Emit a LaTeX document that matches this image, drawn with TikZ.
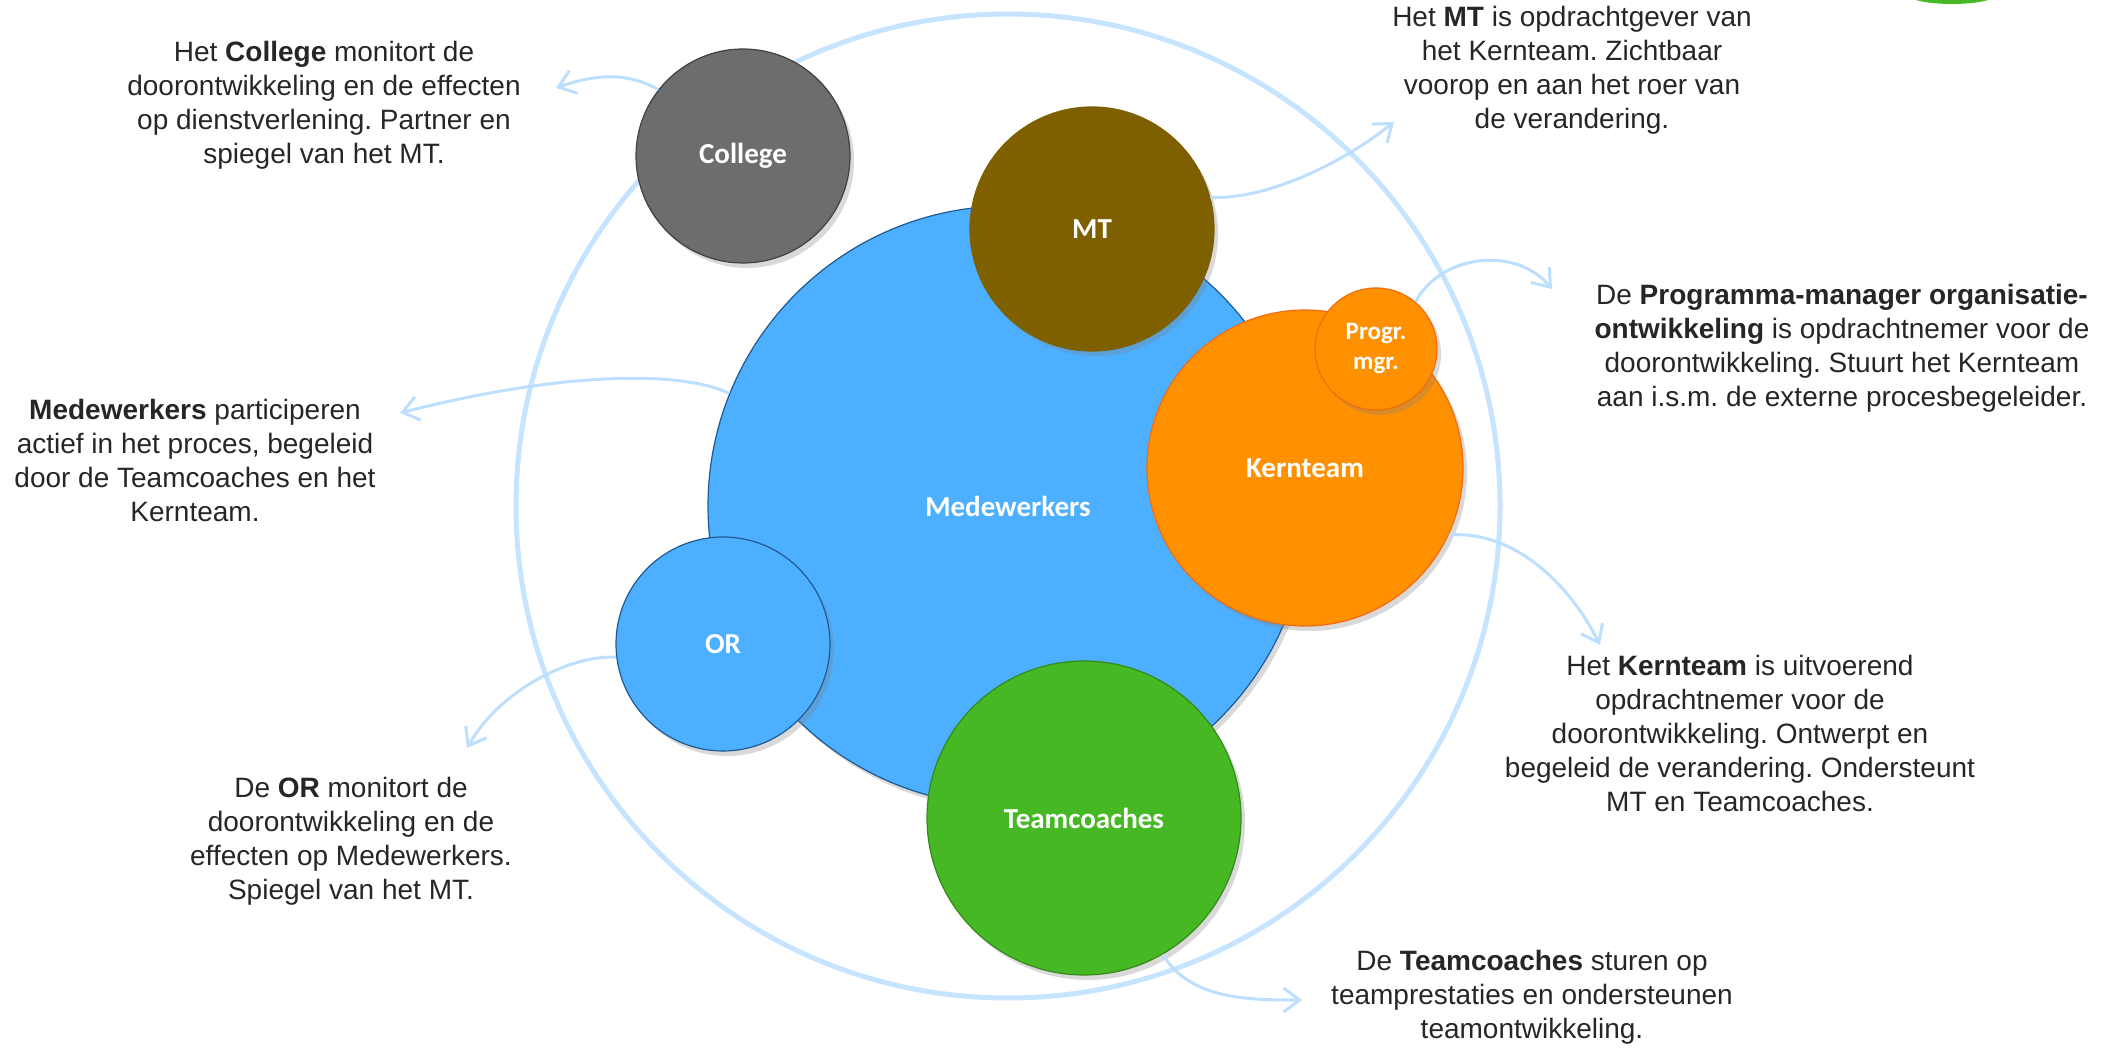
\documentclass[tikz,border=0pt]{standalone}
\usepackage{fontspec}
\setmainfont{Liberation Sans}
\newfontfamily\lblfont{Carlito}
\usetikzlibrary{shadows,arrows.meta}
\frenchspacing
\definecolor{txt}{HTML}{262626}
\definecolor{ring}{HTML}{C6E4FF}
\definecolor{arr}{HTML}{BDDFFF}
\definecolor{grayc}{HTML}{6D6D6D}
\definecolor{grayline}{HTML}{404040}
\definecolor{mtc}{HTML}{7F6000}
\definecolor{bluec}{HTML}{4DAFFF}
\definecolor{blueline}{HTML}{1F5A96}
\definecolor{orangec}{HTML}{FF9100}
\definecolor{orangeline}{HTML}{F26B0F}
\definecolor{greenc}{HTML}{45B823}
\definecolor{greenline}{HTML}{358A1C}
\begin{document}
\begin{tikzpicture}[x=0.5pt,y=-0.5pt,
  bubble/.style={circle, inner sep=0pt, text=white, font=\lblfont\bfseries\fontsize{14.5}{17}\selectfont, align=center, line width=0.6pt, drop shadow={shadow xshift=2pt, shadow yshift=-2.5pt, opacity=0.3}},
  desc/.style={text=txt, font=\fontsize{14}{17}\selectfont, align=center, inner sep=0pt},
  conn/.style={draw=arr, line width=1.5pt, -{Straight Barb[length=8pt,width=12pt,line width=1.5pt]}}
]
\useasboundingbox (0,0) rectangle (2109,1052);
% partial green shape at the top right
\fill[greenc] (1952,-6) ellipse [x radius=45, y radius=10];
% outer ring
\node[circle, draw=ring, line width=2.5pt, inner sep=0pt, minimum size=492pt] (ring) at (1008,506) {};
% circles
\node[bubble, fill=bluec, draw=blueline, minimum size=300pt] (medew) at (1008,506) {Medewerkers};
\node[bubble, fill=mtc, draw=mtc, minimum size=122pt] (mt) at (1092,229) {MT};
\node[bubble, fill=grayc, draw=grayline, minimum size=107pt] (college) at (743,156) {College};
\node[bubble, fill=orangec, draw=orangeline, minimum size=158pt] (kern) at (1305,468) {Kernteam};
\node[bubble, fill=orangec, draw=orangeline, minimum size=61pt, font=\lblfont\bfseries\fontsize{12.5}{15}\selectfont] (progr) at (1376,349) {Progr.\\mgr.};
\node[bubble, fill=bluec, draw=blueline, minimum size=107pt] (or) at (723,644) {OR};
\node[bubble, fill=greenc, draw=greenline, minimum size=157pt] (tc) at (1084,818) {Teamcoaches};
% descriptions
\node[desc] (tcollege) at (324,105) {Het \textbf{College} monitort de\\doorontwikkeling en de effecten\\op dienstverlening. Partner en\\spiegel van het MT.};
\node[desc] (tmt) at (1572,70) {Het \textbf{MT} is opdrachtgever van\\het Kernteam. Zichtbaar\\voorop en aan het roer van\\de verandering.};
\node[desc] (tprogr) at (1842,348) {De \textbf{Programma-manager organisatie-}\\\textbf{ontwikkeling} is opdrachtnemer voor de\\doorontwikkeling. Stuurt het Kernteam\\aan i.s.m. de externe procesbegeleider.};
\node[desc] (tmedew) at (195,460) {\textbf{Medewerkers} participeren\\actief in het proces, begeleid\\door de Teamcoaches en het\\Kernteam.};
\node[desc] (tor) at (351,841) {De \textbf{OR} monitort de\\doorontwikkeling en de\\effecten op Medewerkers.\\Spiegel van het MT.};
\node[desc] (tkern) at (1740,733) {Het \textbf{Kernteam} is uitvoerend\\opdrachtnemer voor de\\doorontwikkeling. Ontwerpt en\\begeleid de verandering. Ondersteunt\\MT en Teamcoaches.};
\node[desc] (ttc) at (1532,997) {De \textbf{Teamcoaches} sturen op\\teamprestaties en ondersteunen\\teamontwikkeling.};
% arrow tips
\coordinate (acollege) at (556,88);
\coordinate (amt) at (1394,122);
\coordinate (aprogr) at (1552,289);
\coordinate (amedew) at (400,413);
\coordinate (aor) at (467,748);
\coordinate (akern) at (1600,645);
\coordinate (atc) at (1302,1000);
% connectors
\draw[conn] (college.142) .. controls (625,70) and (590,76) .. (acollege);
\draw[conn] (mt.15) .. controls (1265,200) and (1340,165) .. (amt);
\draw[conn] (progr.50) .. controls (1440,255) and (1515,245) .. (aprogr);
\draw[conn] (medew.158) .. controls (680,370) and (560,372) .. (amedew);
\draw[conn] (or.187) .. controls (570,655) and (500,690) .. (aor);
\draw[conn] (kern.-25) .. controls (1515,530) and (1570,585) .. (akern);
\draw[conn] (tc.-60) .. controls (1190,1000) and (1250,1000) .. (atc);
\end{tikzpicture}
\end{document}
